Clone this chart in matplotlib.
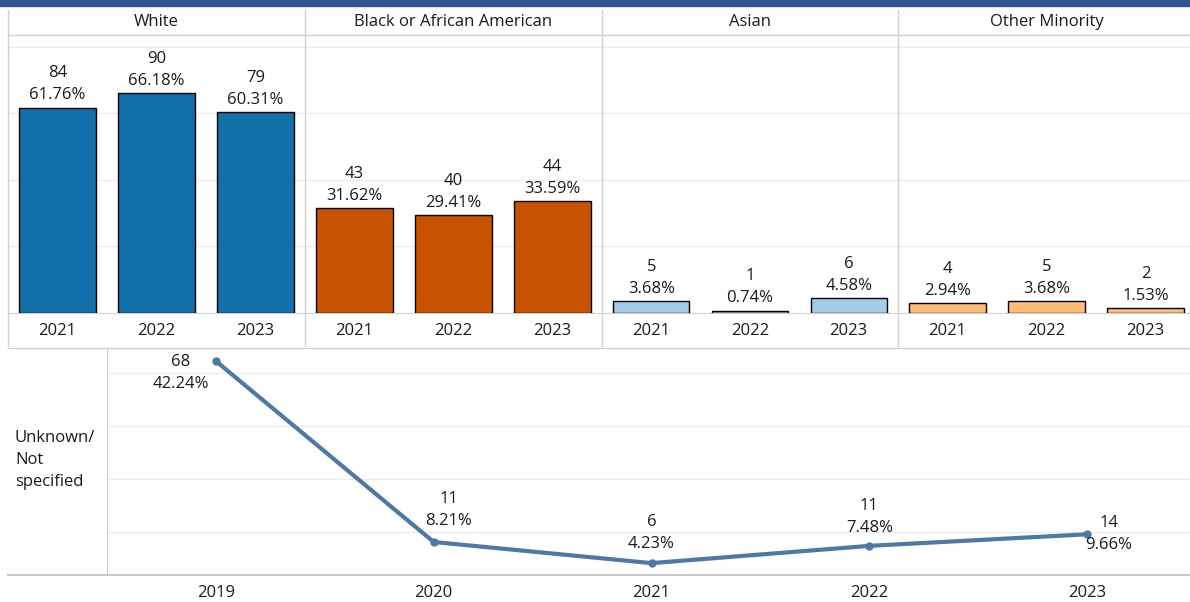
import matplotlib
matplotlib.use("Agg")
import matplotlib.pyplot as plt
from matplotlib.lines import Line2D
from matplotlib.patches import Rectangle

plt.rcParams["font.family"] = ["Open Sans", "DejaVu Sans"]

# ── Dados ──────────────────────────────────────────────
grupos = ["White", "Black or African American", "Asian", "Other Minority"]
anos_barras = ["2021", "2022", "2023"]
contagens = [
    [84, 90, 79],
    [43, 40, 44],
    [5, 1, 6],
    [4, 5, 2],
]
percentuais = [
    [61.76, 66.18, 60.31],
    [31.62, 29.41, 33.59],
    [3.68, 0.74, 4.58],
    [2.94, 3.68, 1.53],
]
cores = ["#1170aa", "#c85200", "#a3cce9", "#ffbc79"]

anos_linha = ["2019", "2020", "2021", "2022", "2023"]
contagens_linha = [68, 11, 6, 11, 14]
percentuais_linha = [42.24, 8.21, 4.23, 7.48, 9.66]

# ── Layout (pixels) ────────────────────────────────────
W, H = 1190, 602
GRADE = "#ececec"
BORDA = "#d0d0d0"
TXT = "#1a1a1a"
FS = 12


def caixa(x0, y0, x1, y1):
    return [x0 / W, 1 - y1 / H, (x1 - x0) / W, (y1 - y0) / H]


def linha_fig(fig, xs, ys, cor=BORDA, lw=1.0):
    fig.add_artist(Line2D([x / W for x in xs], [1 - y / H for y in ys],
                          color=cor, lw=lw, transform=fig.transFigure))


fig = plt.figure(figsize=(W / 100, H / 100), dpi=100)

# faixa azul no topo
fig.add_artist(Rectangle((0, 1 - 6 / H), 1, 6 / H, color="#2e5496",
                         transform=fig.transFigure))

bordas = [8, 305, 602, 898, 1195]
for i, grupo in enumerate(grupos):
    x0, x1 = bordas[i], bordas[i + 1]
    fig.text((x0 + x1) / 2 / W, 1 - 22 / H, grupo, ha="center", va="center",
             fontsize=FS, color=TXT)

    ax = fig.add_axes(caixa(x0, 35, x1, 313))
    pos = range(len(anos_barras))
    barras = ax.bar(pos, percentuais[i], width=0.77, color=cores[i],
                    edgecolor="black", linewidth=1.0, zorder=3)
    for b, n, p in zip(barras, contagens[i], percentuais[i]):
        ax.annotate(f"{n}\n{p:.2f}%", (b.get_x() + b.get_width() / 2, p),
                    xytext=(0, 3), textcoords="offset points", ha="center",
                    va="bottom", fontsize=FS, linespacing=1.5, color=TXT)
    ax.set_xlim(-0.5, 2.5)
    ax.set_ylim(0, 83.6)
    ax.set_yticks([20, 40, 60, 80])
    ax.grid(axis="y", color=GRADE, lw=1.0, zorder=0)
    ax.set_yticklabels([])
    ax.tick_params(axis="y", length=0)
    ax.set_xticks(list(pos))
    ax.set_xticklabels(anos_barras, fontsize=FS, color=TXT)
    ax.tick_params(axis="x", length=0, pad=7)
    for s in ["top", "left", "right"]:
        ax.spines[s].set_visible(False)
    ax.spines["bottom"].set_color(BORDA)

# bordas do painel superior
for x in bordas[:-1]:
    linha_fig(fig, [x, x], [10, 346])
linha_fig(fig, [8, 1190], [35, 35])
linha_fig(fig, [8, 1190], [348, 348])

# ── Painel inferior: linha ─────────────────────────────
fig.text(15 / W, 1 - 460 / H, "Unknown/\nNot\nspecified", ha="left",
         va="center", fontsize=FS, linespacing=1.5, color=TXT)

ax2 = fig.add_axes(caixa(107, 348, 1196, 575))
xs = list(range(len(anos_linha)))
ax2.plot(xs, percentuais_linha, color="#4e79a7", lw=3, marker="o",
         markersize=5, zorder=3)
deslocamentos = [(-35, -12), (15, 32), (0, 30), (0, 29), (22, 0)]
for x, n, p, d in zip(xs, contagens_linha, percentuais_linha, deslocamentos):
    ax2.annotate(f"{n}\n{p:.2f}%", (x, p), xytext=d, textcoords="offset pixels",
                 ha="center", va="center", fontsize=FS, linespacing=1.5,
                 color=TXT)
ax2.set_xlim(-0.5, 4.5)
ax2.set_ylim(2, 44.7)
ax2.set_yticks([10, 20, 30, 40])
ax2.set_yticklabels([])
ax2.grid(axis="y", color=GRADE, lw=1.0, zorder=0)
ax2.tick_params(axis="y", length=0)
ax2.set_xticks(xs)
ax2.set_xticklabels(anos_linha, fontsize=FS, color=TXT)
ax2.tick_params(axis="x", length=0, pad=7)
for s in ["top", "right", "bottom"]:
    ax2.spines[s].set_visible(False)
ax2.spines["left"].set_color(BORDA)
linha_fig(fig, [8, 1190], [575, 575], cor="#c8c8c8", lw=1.5)

fig.savefig("out.png", dpi=100)
